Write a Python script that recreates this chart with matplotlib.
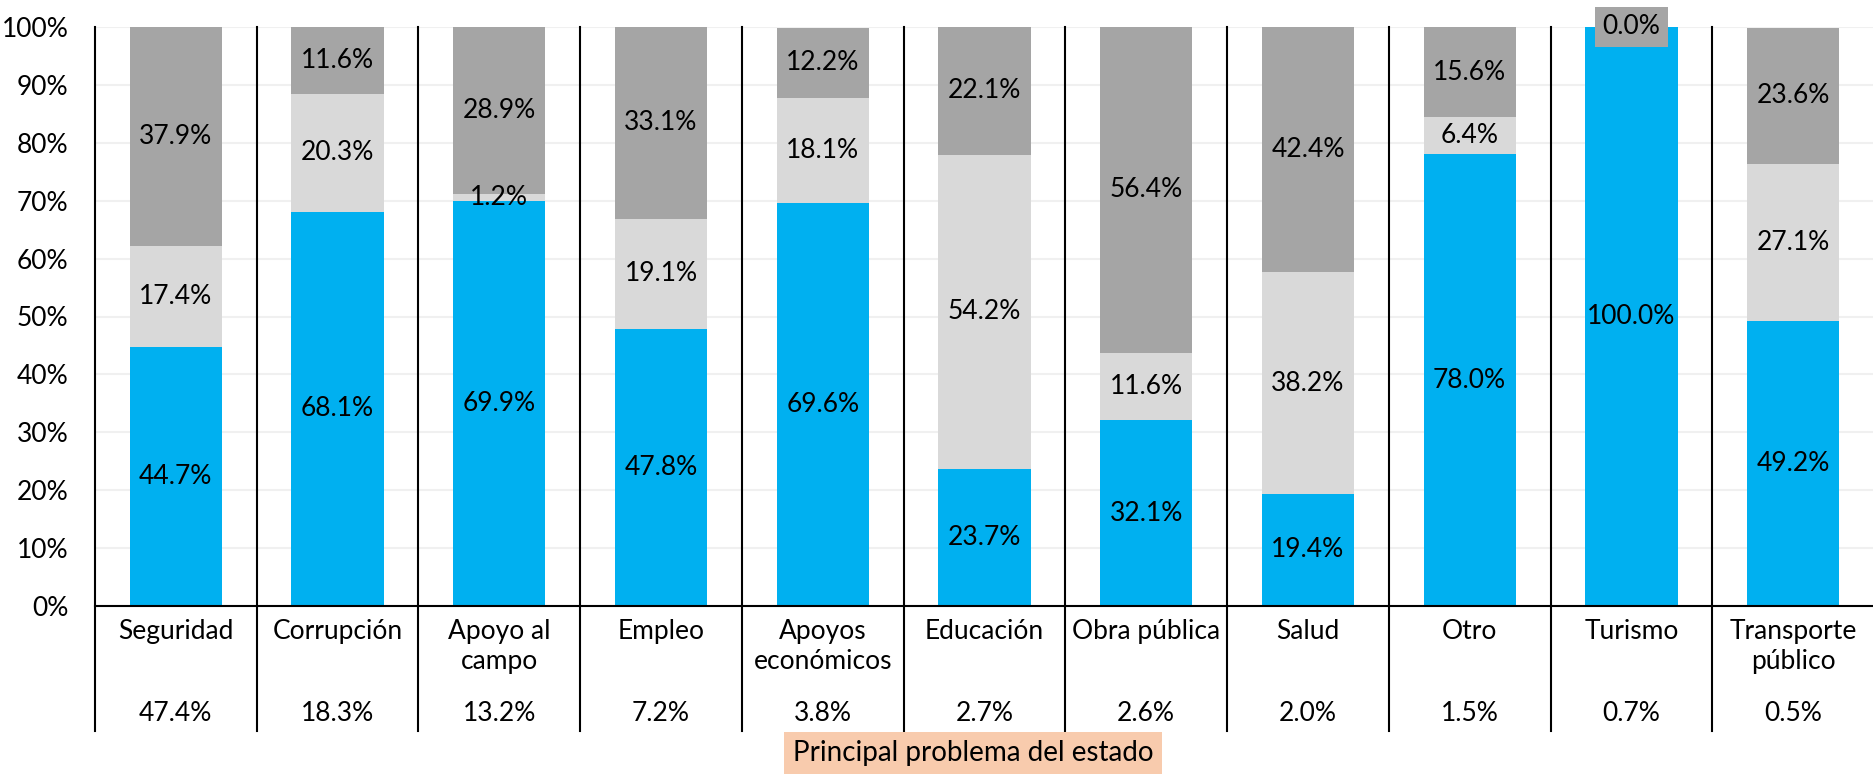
import numpy as np
import matplotlib.pyplot as plt

plt.rcParams['font.family'] = ['Lato', 'DejaVu Sans']

categorias = ['Seguridad', 'Corrupción', 'Apoyo al\ncampo', 'Empleo', 'Apoyos\neconómicos',
              'Educación', 'Obra pública', 'Salud', 'Otro', 'Turismo', 'Transporte\npúblico']
participacion = ['47.4%', '18.3%', '13.2%', '7.2%', '3.8%', '2.7%', '2.6%', '2.0%', '1.5%', '0.7%', '0.5%']

serie_azul = [44.7, 68.1, 69.9, 47.8, 69.6, 23.7, 32.1, 19.4, 78.0, 100.0, 49.2]
serie_gris_claro = [17.4, 20.3, 1.2, 19.1, 18.1, 54.2, 11.6, 38.2, 6.4, 0.0, 27.1]
serie_gris_oscuro = [37.9, 11.6, 28.9, 33.1, 12.2, 22.1, 56.4, 42.4, 15.6, 0.0, 23.6]

colores = ['#00B0F0', '#D9D9D9', '#A5A5A5']
fs = 19

fig = plt.figure(figsize=(18.74, 7.75), dpi=100)
ax = fig.add_axes([95 / 1874, 169 / 775, 1779 / 1874, 579 / 775])

x = np.arange(len(categorias))
base = np.zeros(len(categorias))
for serie, color in zip([serie_azul, serie_gris_claro, serie_gris_oscuro], colores):
    vals = np.array(serie)
    ax.bar(x, vals, 0.57, bottom=base, color=color, zorder=2)
    for xi, v, b in zip(x, vals, base):
        kw = {}
        if v == 0:
            # etiqueta de segmento vacío con fondo del color de la serie
            kw['bbox'] = dict(boxstyle='square,pad=0.3', fc=color, ec='none')
        ax.text(xi, b + v / 2, f'{v:.1f}%', ha='center', va='center',
                fontsize=fs, color='black', zorder=4, **kw)
    base += vals

ax.set_xlim(-0.5, len(categorias) - 0.5)
ax.set_ylim(0, 100)
ax.set_yticks(np.arange(0, 101, 10))
ax.set_yticklabels([f'{t}%' for t in range(0, 101, 10)], fontsize=fs)
ax.yaxis.grid(True, color='#F0F0F0', lw=1.5, zorder=0)
ax.set_axisbelow(True)
ax.tick_params(axis='y', length=0, pad=19)
ax.tick_params(axis='x', length=0, labelbottom=False)
for s in ['top', 'right', 'left']:
    ax.spines[s].set_visible(False)
ax.spines['bottom'].set_linewidth(1.5)

# separadores verticales entre categorías, prolongados hasta la tabla inferior
trans = ax.get_xaxis_transform()
for b in np.arange(-0.5, len(categorias) - 0.5, 1.0):
    ax.plot([b, b], [1.0, -0.216], transform=trans, color='black', lw=1.5,
            clip_on=False, zorder=3)

for xi, cat, p in zip(x, categorias, participacion):
    ax.text(xi, -0.022, cat, transform=trans, ha='center', va='top', ma='center',
            fontsize=fs, linespacing=1.25)
    ax.text(xi, -0.185, p, transform=trans, ha='center', va='center', fontsize=fs)

fig.text(973 / 1874, 22 / 775, 'Principal problema del estado', ha='center', va='center',
         fontsize=fs + 1,
         bbox=dict(boxstyle='square,pad=0.3', fc='#F8CBAD', ec='none'))

fig.savefig('out.png', dpi=100)
